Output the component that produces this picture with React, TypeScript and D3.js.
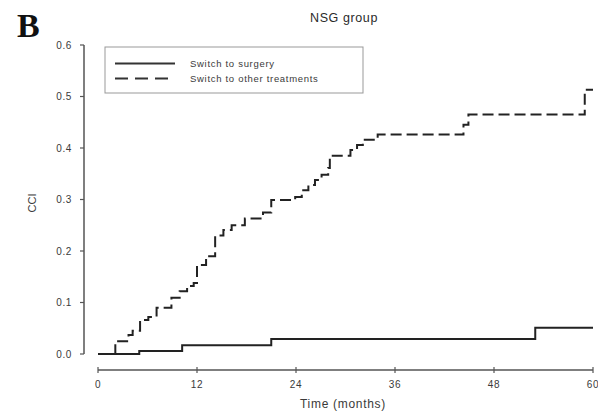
import React from 'react';
import * as d3 from 'd3';

// step times (months) and cumulative incidence after each step
const surgeryTimes = [0, 5.0, 10.2, 21.0, 53.0, 60];
const surgeryCci = [0, 0.006, 0.017, 0.029, 0.051, 0.051];

const otherTimes = [0, 2.1, 3.7, 4.2, 5.1, 6.1, 7.1, 8.9, 9.9, 10.8, 11.6, 12.0, 13.1, 14.2, 15.2, 16.2, 17.8, 20.0, 21.0, 23.9, 24.7, 25.5, 26.3, 27.1, 27.9, 28.1, 30.6, 31.4, 32.1, 33.9, 44.3, 44.9, 59.0, 60];
const otherCci = [0, 0.025, 0.037, 0.045, 0.066, 0.072, 0.09, 0.109, 0.122, 0.132, 0.138, 0.173, 0.19, 0.23, 0.241, 0.25, 0.263, 0.275, 0.299, 0.305, 0.318, 0.328, 0.338, 0.348, 0.361, 0.385, 0.396, 0.406, 0.416, 0.426, 0.445, 0.465, 0.513, 0.513];

const xTicks = [0, 12, 24, 36, 48, 60];
const yTicks = [0, 0.1, 0.2, 0.3, 0.4, 0.5, 0.6];

const legendLabels = ['Switch to surgery', 'Switch to other treatments'];

export default function App() {
    const width = 598, height = 415;
    const font = '"Liberation Sans", Arial, sans-serif';
    const grey = '#555';
    const textGrey = '#3a3a3a';

    const x = d3.scaleLinear().domain([0, 60]).range([98, 593]);
    const y = d3.scaleLinear().domain([0, 0.6]).range([354, 45]);

    const stepLine = d3.line<[number, number]>()
        .curve(d3.curveStepAfter)
        .x(d => x(d[0]))
        .y(d => y(d[1]));

    const surgeryPath = stepLine(surgeryTimes.map((t, i) => [t, surgeryCci[i]]));
    const otherPath = stepLine(otherTimes.map((t, i) => [t, otherCci[i]]));

    const axisX = 84, axisY = 370;

    return (
        <svg width={width} height={height} style={{ position: 'absolute', left: 0, top: 0, background: '#fff' }}>
            <text x={17} y={37} fontFamily='"Liberation Serif", "Times New Roman", serif' fontWeight='bold' fontSize={34} fill='#111'>B</text>
            <text x={344} y={22} textAnchor='middle' fontFamily={font} fontSize={12.5} fill='#2a2a2a' letterSpacing={0.6}>NSG group</text>

            {/* y axis */}
            <line x1={axisX} x2={axisX} y1={y(0.6)} y2={y(0)} stroke={grey} strokeWidth={1.5} />
            {yTicks.map(t => (
                <g key={'y' + t}>
                    <line x1={axisX - 4} x2={axisX} y1={y(t)} y2={y(t)} stroke={grey} strokeWidth={1.2} />
                    <text x={72} y={y(t) + 3.5} textAnchor='end' fontFamily={font} fontSize={10} fill={textGrey} letterSpacing={0.6}>{d3.format('.1f')(t)}</text>
                </g>
            ))}
            <text transform={`translate(36,203) rotate(-90)`} textAnchor='middle' fontFamily={font} fontSize={11} fill={textGrey}>CCI</text>

            {/* x axis */}
            <line x1={x(0)} x2={x(60)} y1={axisY} y2={axisY} stroke={grey} strokeWidth={1.5} />
            {xTicks.map(t => (
                <g key={'x' + t}>
                    <line x1={x(t)} x2={x(t)} y1={axisY - 3} y2={axisY + 3} stroke={grey} strokeWidth={1.2} />
                    <text x={x(t)} y={388} textAnchor='middle' fontFamily={font} fontSize={10} fill={textGrey} letterSpacing={0.6}>{t}</text>
                </g>
            ))}
            <text x={343} y={408} textAnchor='middle' fontFamily={font} fontSize={12} fill={textGrey} letterSpacing={0.7}>Time (months)</text>

            {/* curves */}
            <path d={surgeryPath || ''} fill='none' stroke='#222' strokeWidth={2} />
            <path d={otherPath || ''} fill='none' stroke='#222' strokeWidth={2} strokeDasharray='11,5' />

            {/* legend */}
            <rect x={105} y={47} width={258} height={46} fill='#fff' stroke='#999' strokeWidth={1} />
            <line x1={115} x2={175} y1={63.5} y2={63.5} stroke='#333' strokeWidth={2} />
            <line x1={115} x2={175} y1={78.5} y2={78.5} stroke='#333' strokeWidth={2} strokeDasharray='13,7' />
            {legendLabels.map((l, i) => (
                <text key={l} x={190} y={67 + i * 15} fontFamily={font} fontSize={9.5} fill={textGrey} letterSpacing={0.7}>{l}</text>
            ))}
        </svg>
    );
}
